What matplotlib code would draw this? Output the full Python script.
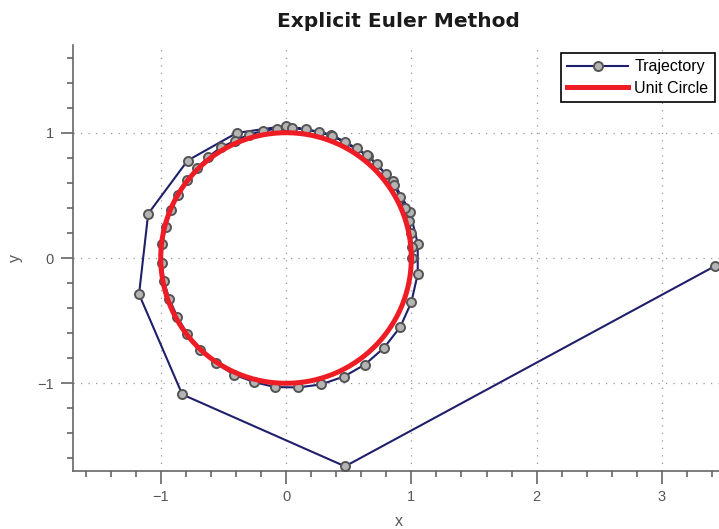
import numpy as np
import matplotlib
matplotlib.use("Agg")
import matplotlib.pyplot as plt
from matplotlib.ticker import MultipleLocator

plt.rcParams['font.family'] = ['Liberation Sans', 'DejaVu Sans']

# Euler trajectory (x, y) in step order
traj_x = [3.424, 0.471, -0.828, -1.173, -1.100, -0.785, -0.394,
          0.000, 0.357, 0.655, 0.851, 0.990, 1.051, 1.051, 1.000,
          0.912, 0.782, 0.630, 0.463, 0.279, 0.098, -0.090, -0.255,
          -0.418, -0.561, -0.684, -0.788, -0.867, -0.931, -0.974, -0.992,
          -0.987, -0.960, -0.918, -0.862, -0.793, -0.713, -0.620, -0.521,
          -0.410, -0.295, -0.184, -0.069, 0.050, 0.162, 0.266, 0.370,
          0.474, 0.564, 0.646, 0.726, 0.795, 0.862, 0.912, 0.947,
          0.982, 0.998, 1.003, 1.006]
traj_y = [-0.064, -1.663, -1.089, -0.289, 0.353, 0.778, 0.998,
          1.055, 0.985, 0.816, 0.616, 0.369, 0.114, -0.127, -0.353,
          -0.550, -0.717, -0.850, -0.946, -1.009, -1.033, -1.030, -0.990,
          -0.930, -0.839, -0.733, -0.606, -0.470, -0.329, -0.186, -0.037,
          0.112, 0.250, 0.382, 0.502, 0.619, 0.715, 0.807, 0.882,
          0.935, 0.985, 1.014, 1.033, 1.038, 1.028, 1.006, 0.975,
          0.927, 0.874, 0.821, 0.749, 0.667, 0.582, 0.484, 0.401,
          0.295, 0.197, 0.090, 0.002]

x_ticks = [-1, 0, 1, 2, 3]
y_ticks = [-1, 0, 1]

theta = np.linspace(0, 2 * np.pi, 400)

fig = plt.figure(figsize=(7.19, 5.29), dpi=100)
ax = fig.add_axes([73 / 719, 58 / 529, 651.6 / 719, 426 / 529])

ax.plot(traj_x, traj_y, '-o', color='#1f1f6b', lw=1.5,
        markersize=6.5, markerfacecolor='#b4b4b4', markeredgecolor='#555555',
        markeredgewidth=1.4, label='Trajectory', zorder=3, clip_on=False)
ax.plot(np.cos(theta), np.sin(theta), color='#ee1c25', lw=3.6,
        label='Unit Circle', zorder=4)

ax.set_xlim(-1.7, 3.5)
ax.set_ylim(-1.7, 1.7)
ax.set_xticks(x_ticks)
ax.set_yticks(y_ticks)
ax.xaxis.set_minor_locator(MultipleLocator(0.2))
ax.yaxis.set_minor_locator(MultipleLocator(0.2))

for side in ['top', 'right']:
    ax.spines[side].set_visible(False)
for side in ['left', 'bottom']:
    ax.spines[side].set_color('#666666')
    ax.spines[side].set_linewidth(1.2)

ax.tick_params(which='major', direction='out', length=9, width=1.2,
               color='#666666', labelcolor='#555555', labelsize=10.5, pad=5)
ax.tick_params(which='minor', direction='out', length=4.5, width=1.2,
               color='#666666')

ax.grid(True, which='major', color='#999999', linestyle=(0, (1, 5)), lw=0.9)

ax.set_xlabel('x', color='#555555', fontsize=11.5, labelpad=7)
ax.set_ylabel('y', color='#555555', fontsize=11.5, labelpad=10)
ax.set_title('Explicit Euler Method', fontsize=14.5, fontweight='bold',
             family='DejaVu Sans', color='#1a1a1a', pad=13)

leg = ax.legend(loc='upper right', bbox_to_anchor=(0.985, 0.981),
                borderaxespad=0, fancybox=False, framealpha=1,
                edgecolor='black', fontsize=11.5, handlelength=3.8,
                handletextpad=0.4, borderpad=0.4, labelspacing=0.4)
leg.get_frame().set_linewidth(1.2)

fig.savefig('out.png', dpi=100)
